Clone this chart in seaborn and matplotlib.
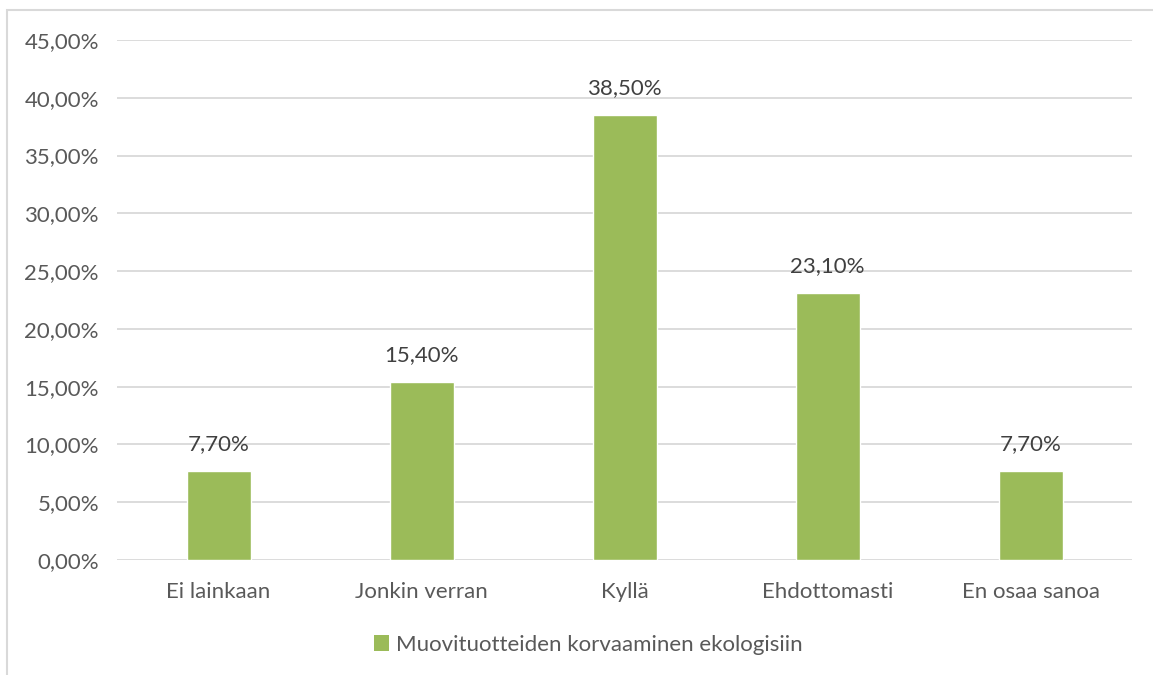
import matplotlib
matplotlib.use("Agg")
import matplotlib.pyplot as plt
from matplotlib.patches import Rectangle
from matplotlib.ticker import FuncFormatter
import seaborn as sns
import pandas as pd

categories = ["Ei lainkaan", "Jonkin verran", "Kyllä", "Ehdottomasti", "En osaa sanoa"]
values = [7.70, 15.40, 38.50, 23.10, 7.70]
series_name = "Muovituotteiden korvaaminen ekologisiin"

df = pd.DataFrame({"Vastaus": categories, "Osuus": values, "Sarja": series_name})

sns.set_theme(style="white")
plt.rcParams["font.family"] = ["Lato", "DejaVu Sans"]

text_color = "#595959"
bar_color = "#9BBB59"
grid_color = "#D9D9D9"
fs = 16

fig = plt.figure(figsize=(11.53, 6.75), dpi=100)
ax = fig.add_axes([0.1015, 0.1704, 0.8805, 0.7703])

sns.barplot(data=df, x="Vastaus", y="Osuus", hue="Sarja", palette=[bar_color],
            width=0.315, ax=ax, legend=False, saturation=1)

ax.set_ylim(0, 45)
ax.set_yticks([0, 5, 10, 15, 20, 25, 30, 35, 40, 45])
ax.yaxis.set_major_formatter(FuncFormatter(lambda v, p: f"{v:.2f}".replace(".", ",") + "%"))
ax.set_xlim(-0.5, len(categories) - 0.5)
ax.grid(axis="y", color=grid_color, linewidth=1.3)
ax.set_axisbelow(True)
for s in ax.spines.values():
    s.set_visible(False)
ax.set_xlabel("")
ax.set_ylabel("")
ax.tick_params(axis="both", length=0, labelsize=fs, colors=text_color)
ax.tick_params(axis="y", pad=13)
ax.tick_params(axis="x", pad=16)

for cont in ax.containers:
    labels = [f"{v:.2f}".replace(".", ",") + "%" for v in values]
    ax.bar_label(cont, labels=labels, padding=12, fontsize=fs, color="#404040")

handle = Rectangle((0, 0), 1, 1, facecolor=bar_color, edgecolor="none")
fig.legend([handle], [series_name], loc="center", bbox_to_anchor=(0.51, 0.045),
           frameon=False, fontsize=fs, handlelength=0.7, handleheight=0.7,
           handletextpad=0.3, labelcolor=text_color)

# chart area frame
fig.patches.append(Rectangle((7 / 1153, -0.1), 1.2, 1.1 - 10 / 675, transform=fig.transFigure,
                             fill=False, edgecolor="#D9D9D9", linewidth=1.5))

fig.savefig("out.png", dpi=100)
